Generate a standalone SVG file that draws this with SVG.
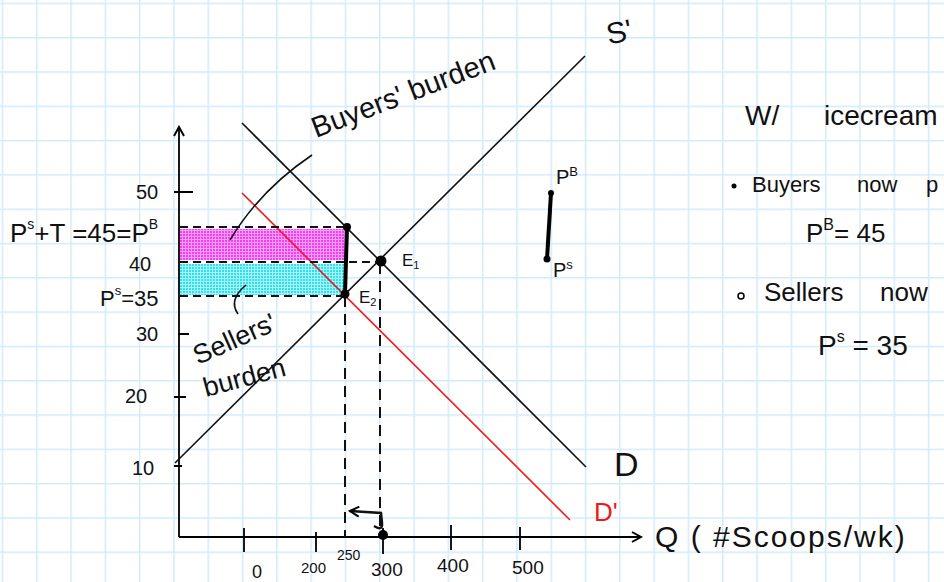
<svg xmlns="http://www.w3.org/2000/svg" width="944" height="582" viewBox="0 0 944 582">
<defs>
<pattern id="grid" x="1.7" y="2.7" width="34.3" height="34.3" patternUnits="userSpaceOnUse">
<path d="M0,0.75 H34.3 M0.75,0 V34.3" stroke="#d3eafa" stroke-width="1.5" fill="none"/>
</pattern>
<pattern id="pinkdots" width="3" height="3" patternUnits="userSpaceOnUse">
<rect width="3" height="3" fill="#ff9cff"/>
<rect width="2" height="2" fill="#f040f0"/>
</pattern>
<pattern id="cyandots" width="3" height="3" patternUnits="userSpaceOnUse">
<rect width="3" height="3" fill="#a8f4fa"/>
<rect width="2" height="2" fill="#30e0ec"/>
</pattern>
<marker id="arr" markerWidth="12" markerHeight="12" refX="10" refY="6" orient="auto" markerUnits="userSpaceOnUse">
<path d="M1,1 L10,6 L1,11" fill="none" stroke="#000" stroke-width="2"/>
</marker>
</defs>
<style>
text{font-family:"Liberation Sans","DejaVu Sans",sans-serif;fill:#111}
.ax{stroke:#000;stroke-width:1.8;fill:none}
.crv{stroke:#111;stroke-width:1.6;fill:none}
.red{stroke:#f01818;stroke-width:1.6;fill:none}
.dash{stroke:#111;stroke-width:2;fill:none;stroke-dasharray:8 5}
.vdash{stroke:#111;stroke-width:2;fill:none;stroke-dasharray:11 7}
.num{font-size:20px}
</style>
<rect width="944" height="582" fill="#fff"/>
<rect width="944" height="582" fill="url(#grid)"/>

<g id="bands">
<rect x="180" y="229" width="165" height="31" fill="url(#pinkdots)"/>
<rect x="180" y="264" width="165" height="31" fill="url(#cyandots)"/>
</g>

<g id="axes">
<path class="ax" d="M179,537 V127" marker-end="url(#arr)"/>
<path class="ax" d="M179,537 H641" marker-end="url(#arr)"/>
<path class="ax" d="M174,192 H193 M178,334 H189 M174,397 H186 M174,466 H182"/>
<path class="ax" d="M244,528 V552 M316,532 V552 M383,528 V554 M451,525 V550 M520,527 V550"/>
</g>

<g id="y-labels">
<text class="num" x="136" y="199" font-size="22">50</text>
<text class="num" x="129" y="271" font-size="22">40</text>
<text class="num" x="136" y="341" font-size="22">30</text>
<text class="num" x="125" y="403" font-size="22">20</text>
<text class="num" x="132" y="475" font-size="22">10</text>
<text x="10" y="242" font-size="26">P<tspan dy="-13" font-size="14">s</tspan><tspan dy="13">+T =45=P</tspan><tspan dy="-13" font-size="14">B</tspan></text>
<text x="100" y="306" font-size="22">P<tspan dy="-11" font-size="13">s</tspan><tspan dy="11">=35</tspan></text>
</g>

<g id="x-labels">
<text x="252" y="578" font-size="18">0</text>
<text x="301" y="573" font-size="15">200</text>
<text x="337" y="560" font-size="14">250</text>
<text x="371" y="576" font-size="19">300</text>
<text x="437" y="572" font-size="19">400</text>
<text x="512" y="574" font-size="19">500</text>
<text x="655" y="547" font-size="30" letter-spacing="2">Q ( #Scoops/wk)</text>
</g>

<g id="curves">
<path class="crv" d="M175,463 L585,56"/>
<path class="crv" d="M242,123 L586,467"/>
<path class="red" d="M242,193 L570,520"/>
<text x="606" y="42" font-size="30" transform="rotate(-12 620 30)">S'</text>
<text x="614" y="476" font-size="34">D</text>
<text x="594" y="521" font-size="26" style="fill:#f01818">D'</text>
</g>

<g id="connectors">
<path class="dash" d="M180,227 H347"/>
<path class="dash" d="M180,262 H380"/>
<path class="dash" d="M180,296 H345"/>
<path class="vdash" d="M345,296 V537"/>
<path class="vdash" d="M380,263 V537"/>
<path d="M347,227 L345,294" stroke="#000" stroke-width="4" fill="none"/>
<path d="M230,240 Q260,190 312,155" class="crv" stroke-width="2.2"/>
<path d="M246,285 Q228,300 238,314" class="crv" stroke-width="2"/>
<path d="M374,526 Q383,532 382,522 L381,513 L350,511" stroke="#111" stroke-width="2.4" fill="none" marker-end="url(#arr)"/>
<path d="M551,193 L547,259" stroke="#000" stroke-width="4" fill="none"/>
</g>

<g id="points">
<circle cx="381" cy="261" r="5.5" fill="#000"/>
<circle cx="345" cy="294" r="4.5" fill="#000"/>
<circle cx="347" cy="227" r="4" fill="#000"/>
<circle cx="383" cy="535" r="5" fill="#000"/>
<circle cx="551" cy="193" r="3" fill="#000"/>
<circle cx="547" cy="259" r="3.5" fill="#000"/>
<text x="402" y="266" font-size="17">E<tspan font-size="11" dy="3">1</tspan></text>
<text x="359" y="303" font-size="17">E<tspan font-size="11" dy="3">2</tspan></text>
<text x="556" y="184" font-size="20">P<tspan dy="-8" font-size="13">B</tspan></text>
<text x="553" y="277" font-size="20">P<tspan dy="-8" font-size="13">s</tspan></text>
</g>

<g id="annotations">
<text x="316" y="138" font-size="29" transform="rotate(-21 316 138)">Buyers' burden</text>
<text x="198" y="365" font-size="27" transform="rotate(-24 198 365)">Sellers'</text>
<text x="206" y="397" font-size="27" transform="rotate(-15 206 397)">burden</text>
</g>

<g id="notes">
<text x="745" y="125" font-size="28">W/</text>
<text x="824" y="125" font-size="28">icecream</text>
<circle cx="734" cy="186" r="2.5" fill="#000"/>
<text x="752" y="192" font-size="22">Buyers</text>
<text x="857" y="192" font-size="22">now</text>
<text x="926" y="192" font-size="22">p</text>
<text x="806" y="242" font-size="26">P<tspan dy="-12" font-size="16">B</tspan><tspan dy="12">= 45</tspan></text>
<circle cx="741" cy="296" r="3" fill="none" stroke="#000" stroke-width="1.5"/>
<text x="764" y="301" font-size="26">Sellers</text>
<text x="880" y="301" font-size="26">now</text>
<text x="818" y="355" font-size="28">P<tspan dy="-13" font-size="16">s</tspan><tspan dy="13"> = 35</tspan></text>
</g>
</svg>
